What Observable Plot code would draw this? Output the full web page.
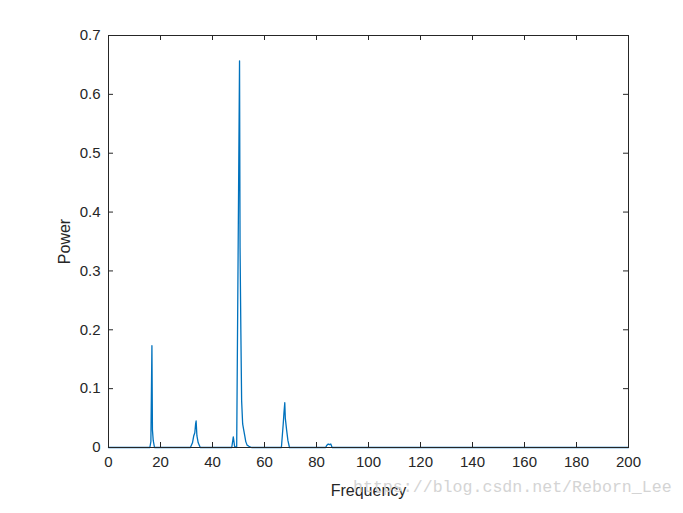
<!DOCTYPE html>
<html>
<head>
<meta charset="utf-8">
<script src="https://cdn.jsdelivr.net/npm/d3@7"></script>
<script src="https://cdn.jsdelivr.net/npm/@observablehq/plot@0.6"></script>
<style>
  html, body { margin: 0; padding: 0; background: #fff; }
  #wrap { position: relative; width: 683px; height: 513px; }
  #wm { position: absolute; left: 353px; top: 478px; font-family: "Liberation Mono", "DejaVu Sans Mono", monospace; font-size: 16.6px; color: #d4d4d4; white-space: nowrap; }
</style>
</head>
<body>
<div id="wrap"></div>
<script>
const freq  = [0, 15.9, 16.3, 16.7, 16.9, 17.2, 17.7,
               31.5, 32.3, 32.8, 33.2, 33.5, 33.7, 34.0, 34.5, 35.3,
               47.4, 48.0, 48.5, 49.3, 50.4, 50.6, 50.9, 51.2, 51.6, 52.0, 52.4, 52.8, 53.3, 54.0, 55.0,
               66.5, 67.2, 67.5, 67.8, 68.0, 68.5, 69.0, 69.6,
               83.5, 84.0, 84.5, 85.0, 85.5, 86.0, 200];
const power = [0, 0, 0.01, 0.173, 0.03, 0.012, 0,
               0, 0.008, 0.02, 0.025, 0.04, 0.045, 0.02, 0.008, 0,
               0, 0.018, 0.002, 0, 0.657, 0.34, 0.2, 0.08, 0.04, 0.03, 0.02, 0.01, 0.004, 0.002, 0,
               0, 0.04, 0.06, 0.076, 0.05, 0.03, 0.012, 0,
               0, 0.004, 0.006, 0.005, 0.006, 0, 0];
const xTicks = [0, 20, 40, 60, 80, 100, 120, 140, 160, 180, 200];
const yTicks = [0, 0.1, 0.2, 0.3, 0.4, 0.5, 0.6, 0.7];
const xLabel = "Frequency";
const yLabel = "Power";
const watermark = "https://blog.csdn.net/Reborn_Lee";

const data = freq.map((f, i) => ({f, p: power[i]}));
const W = 683, H = 513, mL = 108, mR = 55, mT = 35, mB = 66;
const innerW = W - mL - mR, innerH = H - mT - mB, tk = 5;
const axisColor = "#262626";

const chart = Plot.plot({
  width: W, height: H,
  marginLeft: mL, marginRight: mR, marginTop: mT, marginBottom: mB,
  style: {fontFamily: "Liberation Sans, Arial, sans-serif", fontSize: "15px", color: axisColor, background: "#fff"},
  x: {domain: [0, 200], ticks: xTicks},
  y: {domain: [0, 0.7], ticks: yTicks},
  marks: [
    Plot.line(data, {x: "f", y: "p", stroke: "#0072BD", strokeWidth: 1.3}),
    Plot.tickX(xTicks, {x: d => d, insetTop: innerH - tk, stroke: axisColor}),
    Plot.tickX(xTicks, {x: d => d, insetBottom: innerH - tk, stroke: axisColor}),
    Plot.tickY(yTicks, {y: d => d, insetRight: innerW - tk, stroke: axisColor}),
    Plot.tickY(yTicks, {y: d => d, insetLeft: innerW - tk, stroke: axisColor}),
    Plot.frame({stroke: axisColor}),
    Plot.axisX(xTicks, {tickSize: 0, tickPadding: 9, label: null, fontSize: 15, color: axisColor}),
    Plot.axisY(yTicks, {tickSize: 0, tickPadding: 8, label: null, fontSize: 15, tickFormat: d3.format(""), color: axisColor}),
    Plot.axisX({anchor: "bottom", ticks: [], tickSize: 0, label: xLabel, labelAnchor: "center", labelOffset: 48, labelArrow: "none", fontSize: 16}),
    Plot.axisY({anchor: "left", ticks: [], tickSize: 0, label: yLabel, labelAnchor: "center", labelOffset: 50, labelArrow: "none", fontSize: 16})
  ]
});
const wrap = document.getElementById("wrap");
wrap.appendChild(chart);
const wm = document.createElement("div");
wm.id = "wm";
wm.textContent = watermark;
wrap.appendChild(wm);
</script>
</body>
</html>
